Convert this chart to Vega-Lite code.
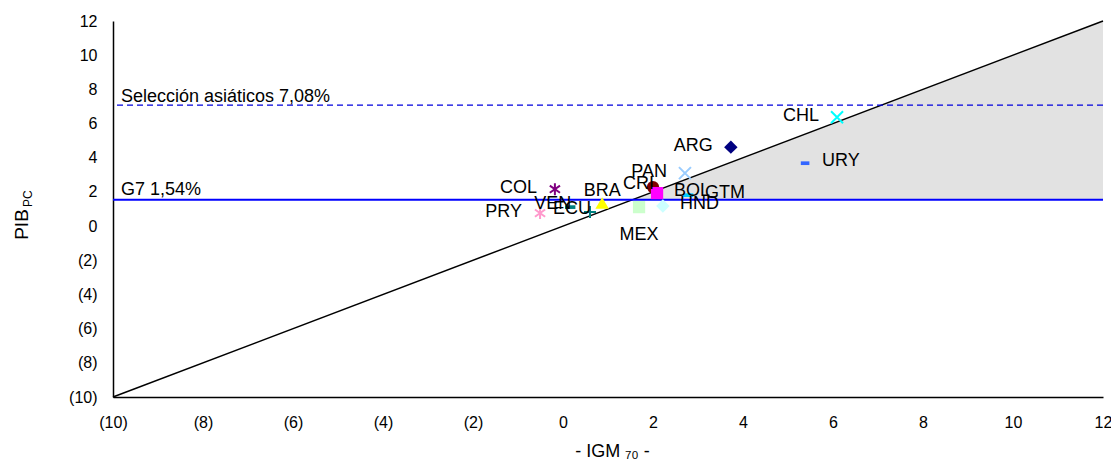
{
  "$schema": "https://vega.github.io/schema/vega-lite/v6.json",
  "width": 990,
  "height": 376,
  "autosize": "none",
  "padding": {"left": 113, "top": 21, "right": 8, "bottom": 65},
  "config": {"view": {"stroke": null}, "font": "Liberation Sans", "text": {"font": "Liberation Sans", "color": "#000000"}, "axis": {"labelOverlap": false}},
  "datasets": {
    "pts": [
      {"pais": "COL", "igm": -0.18, "pib": 2.16},
      {"pais": "VEN", "igm": 0.16, "pib": 1.11},
      {"pais": "PRY", "igm": -0.51, "pib": 0.76},
      {"pais": "ECU", "igm": 0.6, "pib": 0.82},
      {"pais": "BRA", "igm": 0.87, "pib": 1.35},
      {"pais": "CRI", "igm": 2.0, "pib": 2.28},
      {"pais": "PAN", "igm": 2.71, "pib": 3.1},
      {"pais": "MEX", "igm": 1.69, "pib": 1.11},
      {"pais": "BOL", "igm": 2.09, "pib": 1.93},
      {"pais": "HND", "igm": 2.22, "pib": 1.17},
      {"pais": "GTM", "igm": 2.78, "pib": 1.81},
      {"pais": "CHL", "igm": 6.09, "pib": 6.37},
      {"pais": "ARG", "igm": 3.73, "pib": 4.62},
      {"pais": "URY", "igm": 5.38, "pib": 3.68}
    ],
    "shade": [
      {"igm": 1.54, "pib": 1.54, "pib0": 1.54},
      {"igm": 12, "pib": 12, "pib0": 1.54}
    ],
    "diag": [
      {"igm": -10, "pib": -10},
      {"igm": 12, "pib": 12}
    ]
  },
  "layer": [
    {
      "data": {"name": "shade"},
      "mark": {"type": "area", "color": "#e2e2e2"},
      "encoding": {
        "x": {
          "field": "igm", "type": "quantitative",
          "scale": {"domain": [-10, 12], "nice": false, "zero": false},
          "axis": {
            "values": [-10, -8, -6, -4, -2, 0, 2, 4, 6, 8, 10, 12], "tickCount": 30,
            "labelExpr": "datum.value < 0 ? '(' + (-datum.value) + ')' : '' + datum.value",
            "grid": false, "ticks": false, "tickSize": 0, "labelPadding": 17,
            "labelFontSize": 16, "labelColor": "#000000", "labelFlush": false, "labelOverlap": false,
            "domainColor": "#000000", "domainWidth": 1.5,
            "title": "- IGM ₇₀ -", "titleFontSize": 18, "titleFontWeight": "normal", "titleColor": "#000000",
            "titleX": 499, "titleY": 59, "titleBaseline": "alphabetic", "titleAlign": "center"
          }
        },
        "y": {
          "field": "pib", "type": "quantitative",
          "scale": {"domain": [-10, 12], "nice": false, "zero": false},
          "axis": {
            "values": [-10, -8, -6, -4, -2, 0, 2, 4, 6, 8, 10, 12], "tickCount": 30,
            "labelExpr": "datum.value < 0 ? '(' + (-datum.value) + ')' : datum.value + '\u00a0'",
            "grid": false, "ticks": false, "tickSize": 0, "labelPadding": 16,
            "labelFontSize": 16, "labelColor": "#000000", "labelFlush": false, "labelOverlap": false,
            "domainColor": "#000000", "domainWidth": 1.5,
            "title": "PIB", "titleFontSize": 19, "titleFontWeight": "normal", "titleColor": "#000000",
            "titleAngle": 270, "titleX": -92, "titleY": 203, "titleAlign": "center", "titleBaseline": "middle"
          }
        },
        "y2": {"field": "pib0"}
      }
    },
    {
      "data": {"name": "diag"},
      "mark": {"type": "line", "color": "#000000", "strokeWidth": 1.5},
      "encoding": {
        "x": {"field": "igm", "type": "quantitative"},
        "y": {"field": "pib", "type": "quantitative"}
      }
    },
    {
      "data": {"values": [{}]},
      "mark": {"type": "rule", "color": "#0000FF", "strokeWidth": 2},
      "encoding": {"y": {"datum": 1.54, "type": "quantitative"}}
    },
    {
      "data": {"values": [{}]},
      "mark": {"type": "rule", "color": "#0000DD", "strokeWidth": 1.3, "strokeDash": [6, 4]},
      "encoding": {"y": {"datum": 7.08, "type": "quantitative"}}
    },
    {
      "data": {"values": [{}]},
      "mark": {"type": "text", "align": "left", "baseline": "alphabetic", "dx": 8, "dy": -5, "fontSize": 18, "text": "G7 1,54%"},
      "encoding": {
        "x": {"datum": -10, "type": "quantitative"},
        "y": {"datum": 1.54, "type": "quantitative"}
      }
    },
    {
      "data": {"values": [{}]},
      "mark": {"type": "text", "align": "left", "baseline": "alphabetic", "dx": 8, "dy": -3, "fontSize": 18, "text": "Selección asiáticos 7,08%"},
      "encoding": {
        "x": {"datum": -10, "type": "quantitative"},
        "y": {"datum": 7.08, "type": "quantitative"}
      }
    },
    {
      "data": {"values": [{}]},
      "mark": {"type": "text", "align": "center", "baseline": "middle", "angle": 270, "fontSize": 12, "text": "PC"},
      "encoding": {
        "x": {"datum": -11.9, "type": "quantitative"},
        "y": {"datum": 1.6, "type": "quantitative"}
      }
    },
    {
      "data": {"name": "pts"},
      "transform": [{"filter": {"field": "pais", "oneOf": ["VEN", "BRA", "CRI", "MEX", "BOL", "HND", "GTM", "ARG", "URY"]}}],
      "mark": {"type": "point", "filled": true, "size": 150, "opacity": 1},
      "encoding": {
        "x": {"field": "igm", "type": "quantitative"},
        "y": {"field": "pib", "type": "quantitative"},
        "color": {
          "field": "pais", "type": "nominal", "legend": null,
          "scale": {
            "domain": ["COL", "VEN", "PRY", "ECU", "BRA", "CRI", "PAN", "MEX", "BOL", "HND", "GTM", "CHL", "ARG", "URY"],
            "range": ["#800080", "#008080", "#FF99CC", "#008080", "#FFFF00", "#800000", "#99CCFF", "#CCFFCC", "#FF00FF", "#CCFFFF", "#00CCFF", "#00FFFF", "#000080", "#3366FF"]
          }
        },
        "shape": {
          "field": "pais", "type": "nominal", "legend": null,
          "scale": {
            "domain": ["COL", "VEN", "PRY", "ECU", "BRA", "CRI", "PAN", "MEX", "BOL", "HND", "GTM", "CHL", "ARG", "URY"],
            "range": [
              "M0,-1V1M-0.85,-0.6L0.85,0.6M-0.85,0.6L0.85,-0.6",
              "M-0.85,-0.3H0.85V0.3H-0.85Z",
              "M0,-1V1M-0.85,-0.6L0.85,0.6M-0.85,0.6L0.85,-0.6",
              "M-1,0H1M0,-1V1",
              "M-1.1,0.95L1.1,0.95L0,-0.95Z",
              "circle",
              "M-1,-1L1,1M-1,1L1,-1",
              "square",
              "square",
              "M-1.1,0L0,-1.1L1.1,0L0,1.1Z",
              "M-0.85,-0.3H0.85V0.3H-0.85Z",
              "M-1,-1L1,1M-1,1L1,-1",
              "M-1.1,0L0,-1.1L1.1,0L0,1.1Z",
              "M-0.7,-0.3H0.7V0.3H-0.7Z"
            ]
          }
        }
      }
    },
    {
      "data": {"name": "pts"},
      "transform": [{"filter": {"field": "pais", "oneOf": ["COL", "PRY", "ECU", "PAN", "CHL"]}}],
      "mark": {"type": "point", "filled": false, "size": 144, "strokeWidth": 2, "opacity": 1},
      "encoding": {
        "x": {"field": "igm", "type": "quantitative"},
        "y": {"field": "pib", "type": "quantitative"},
        "color": {
          "field": "pais", "type": "nominal", "legend": null,
          "scale": {
            "domain": ["COL", "VEN", "PRY", "ECU", "BRA", "CRI", "PAN", "MEX", "BOL", "HND", "GTM", "CHL", "ARG", "URY"],
            "range": ["#800080", "#008080", "#FF99CC", "#008080", "#FFFF00", "#800000", "#99CCFF", "#CCFFCC", "#FF00FF", "#CCFFFF", "#00CCFF", "#00FFFF", "#000080", "#3366FF"]
          }
        },
        "shape": {
          "field": "pais", "type": "nominal", "legend": null,
          "scale": {
            "domain": ["COL", "VEN", "PRY", "ECU", "BRA", "CRI", "PAN", "MEX", "BOL", "HND", "GTM", "CHL", "ARG", "URY"],
            "range": [
              "M0,-1V1M-0.85,-0.6L0.85,0.6M-0.85,0.6L0.85,-0.6",
              "M-0.85,-0.3H0.85V0.3H-0.85Z",
              "M0,-1V1M-0.85,-0.6L0.85,0.6M-0.85,0.6L0.85,-0.6",
              "M-1,0H1M0,-1V1",
              "M-1.1,0.95L1.1,0.95L0,-0.95Z",
              "circle",
              "M-1,-1L1,1M-1,1L1,-1",
              "square",
              "square",
              "M-1.1,0L0,-1.1L1.1,0L0,1.1Z",
              "M-0.85,-0.3H0.85V0.3H-0.85Z",
              "M-1,-1L1,1M-1,1L1,-1",
              "M-1.1,0L0,-1.1L1.1,0L0,1.1Z",
              "M-0.7,-0.3H0.7V0.3H-0.7Z"
            ]
          }
        }
      }
    },
    {
      "data": {"name": "pts"},
      "transform": [{"filter": {"field": "pais", "oneOf": ["COL", "PRY", "PAN", "ARG", "CHL"]}}],
      "mark": {"type": "text", "align": "right", "baseline": "middle", "dx": -18, "dy": -1, "fontSize": 18},
      "encoding": {
        "x": {"field": "igm", "type": "quantitative"},
        "y": {"field": "pib", "type": "quantitative"},
        "text": {"field": "pais"}
      }
    },
    {
      "data": {"name": "pts"},
      "transform": [{"filter": {"field": "pais", "oneOf": ["VEN", "ECU", "CRI"]}}],
      "mark": {"type": "text", "align": "right", "baseline": "middle", "dx": 1, "dy": -3, "fontSize": 18},
      "encoding": {
        "x": {"field": "igm", "type": "quantitative"},
        "y": {"field": "pib", "type": "quantitative"},
        "text": {"field": "pais"}
      }
    },
    {
      "data": {"name": "pts"},
      "transform": [{"filter": {"field": "pais", "oneOf": ["BRA"]}}],
      "mark": {"type": "text", "align": "center", "baseline": "middle", "dy": -12, "fontSize": 18},
      "encoding": {
        "x": {"field": "igm", "type": "quantitative"},
        "y": {"field": "pib", "type": "quantitative"},
        "text": {"field": "pais"}
      }
    },
    {
      "data": {"name": "pts"},
      "transform": [{"filter": {"field": "pais", "oneOf": ["MEX"]}}],
      "mark": {"type": "text", "align": "center", "baseline": "middle", "dy": 28, "fontSize": 18},
      "encoding": {
        "x": {"field": "igm", "type": "quantitative"},
        "y": {"field": "pib", "type": "quantitative"},
        "text": {"field": "pais"}
      }
    },
    {
      "data": {"name": "pts"},
      "transform": [{"filter": {"field": "pais", "oneOf": ["BOL", "HND", "GTM", "URY"]}}],
      "mark": {"type": "text", "align": "left", "baseline": "middle", "dx": 17, "dy": -2, "fontSize": 18},
      "encoding": {
        "x": {"field": "igm", "type": "quantitative"},
        "y": {"field": "pib", "type": "quantitative"},
        "text": {"field": "pais"}
      }
    }
  ]
}
